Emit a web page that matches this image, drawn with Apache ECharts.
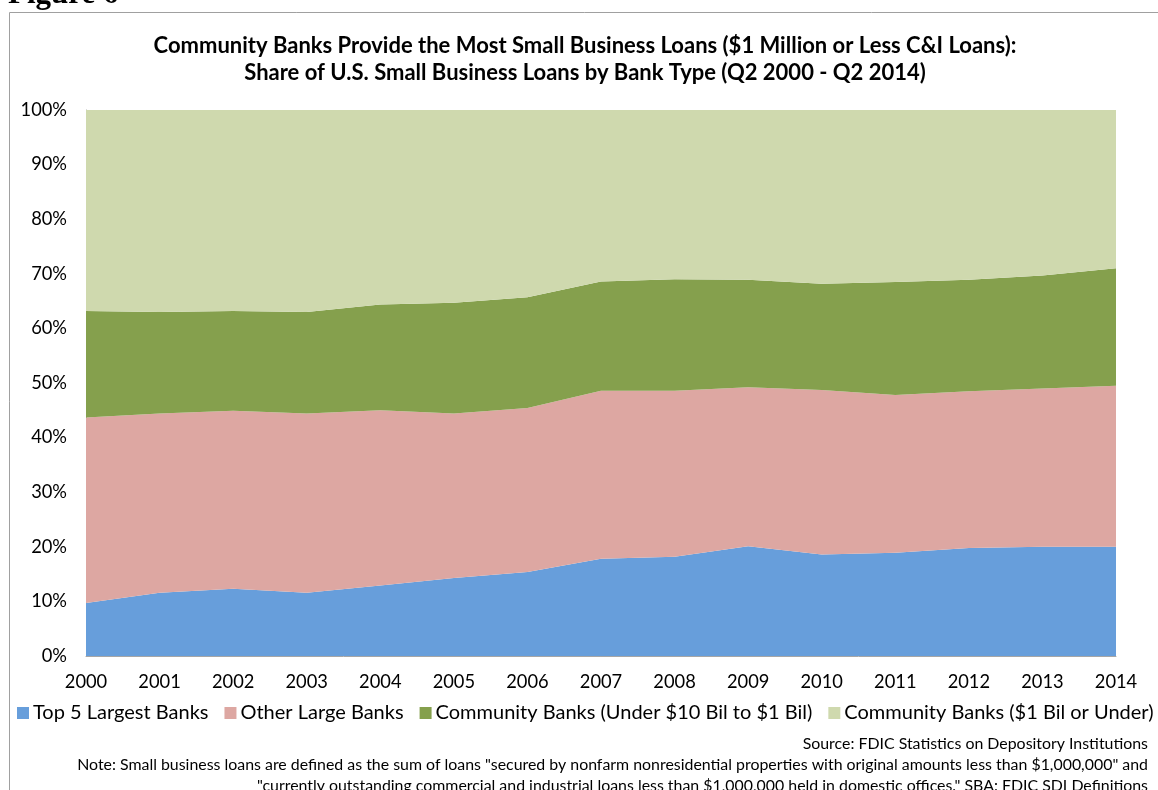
<!DOCTYPE html>
<html><head><meta charset="utf-8">
<script src="https://cdn.jsdelivr.net/npm/echarts@6/dist/echarts.min.js"></script>
<style>html,body{margin:0;padding:0;background:#fff}#c{width:1158px;height:790px}</style>
</head><body><div id="c"></div>
<script>
const years = ['2000','2001','2002','2003','2004','2005','2006','2007','2008','2009','2010','2011','2012','2013','2014'];
const top5 = [9.7, 11.6, 12.3, 11.6, 12.9, 14.3, 15.4, 17.8, 18.2, 20.1, 18.6, 18.9, 19.8, 20.0, 20.0];
const otherLarge = [34.0, 32.8, 32.6, 32.8, 32.1, 30.1, 30.0, 30.8, 30.4, 29.1, 30.1, 28.9, 28.7, 29.0, 29.5];
const commMid = [19.5, 18.6, 18.3, 18.6, 19.4, 20.3, 20.3, 20.0, 20.4, 19.7, 19.5, 20.7, 20.4, 20.7, 21.5];
const commSmall = [36.8, 37.0, 36.8, 37.0, 35.6, 35.3, 34.3, 31.4, 31.0, 31.1, 31.8, 31.5, 31.1, 30.3, 29.0];
const seriesNames = ['Top 5 Largest Banks','Other Large Banks','Community Banks (Under $10 Bil to $1 Bil)','Community Banks ($1 Bil or Under)'];
const colors = ['#679EDB','#DDA7A2','#85A04D','#CFD9AE'];
const titleLines = ['Community Banks Provide the Most Small Business Loans ($1 Million or Less C&I Loans):','Share of U.S. Small Business Loans by Bank Type (Q2 2000 - Q2 2014)'];
const notes = ['Source: FDIC Statistics on Depository Institutions',
 'Note: Small business loans are defined as the sum of loans "secured by nonfarm nonresidential properties with original amounts less than $1,000,000" and',
 '"currently outstanding commercial and industrial loans less than $1,000,000 held in domestic offices." SBA: FDIC SDI Definitions'];
const FONT = 'Lato';
const chart = echarts.init(document.getElementById('c'), null, {renderer:'canvas'});
const data = [top5, otherLarge, commMid, commSmall];
chart.setOption({
  animation:false,
  textStyle:{fontFamily:FONT},
  graphic:[
    {type:'rect', shape:{x:9.5,y:12.5,width:1160,height:800}, style:{fill:'none',stroke:'#A0A0A0',lineWidth:1}, z:-1},
    {type:'text', x:8, y:10, style:{text:'Figure 6', font:'bold 31px "Liberation Serif"', fill:'#000', verticalAlign:'bottom'}},
    {type:'text', x:585, y:46, style:{text:titleLines[0], font:'bold 22px '+FONT, fill:'#000', align:'center', verticalAlign:'middle'}},
    {type:'text', x:585, y:73, style:{text:titleLines[1], font:'bold 22px '+FONT, fill:'#000', align:'center', verticalAlign:'middle'}},
    {type:'text', x:1148, y:744, style:{text:notes[0], font:'15.9px '+FONT, fill:'#000', align:'right', verticalAlign:'middle'}},
    {type:'text', x:1148, y:765, style:{text:notes[1], font:'15.9px '+FONT, fill:'#000', align:'right', verticalAlign:'middle'}},
    {type:'text', x:1148, y:786, style:{text:notes[2], font:'15.9px '+FONT, fill:'#000', align:'right', verticalAlign:'middle'}}
  ],
  legend:{left:17, top:703, width:1150, padding:0, icon:'rect', itemWidth:12, itemHeight:12, itemGap:16,
    textStyle:{fontSize:20, color:'#000', fontFamily:FONT, padding:[0,0,0,-1]},
    data:seriesNames},
  grid:{left:86, right:42, top:110, bottom:134, containLabel:false},
  xAxis:{type:'category', data:years, boundaryGap:false,
    axisLine:{lineStyle:{color:'#A6A6A6'}}, axisTick:{show:false},
    axisLabel:{color:'#000', fontSize:18.3, margin:17, fontFamily:FONT}},
  yAxis:{type:'value', min:0, max:100, interval:10,
    axisLine:{show:true, lineStyle:{color:'#A6A6A6'}}, axisTick:{show:false},
    splitLine:{show:false},
    axisLabel:{color:'#000', fontSize:18.3, margin:19, fontFamily:FONT, formatter:'{value}%'}},
  series: seriesNames.map((n,i)=>({
    name:n, type:'line', stack:'total', data:data[i], symbol:'none',
    lineStyle:{width:0}, itemStyle:{color:colors[i]},
    areaStyle:{color:colors[i], opacity:1}
  }))
});
</script></body></html>
